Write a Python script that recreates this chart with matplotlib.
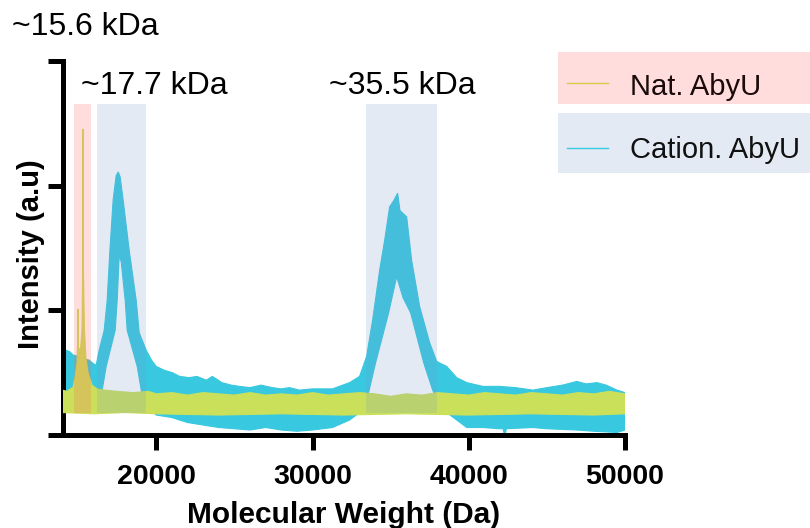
import matplotlib.pyplot as plt
from matplotlib.patches import Rectangle
from matplotlib.lines import Line2D

plt.rcParams['font.family'] = ['Liberation Sans', 'DejaVu Sans']

# Cation. AbyU trace (noisy), stored as its upper and lower envelope, x in Da
cat_top_x = [14000, 14200, 14450, 14700, 15065, 15400, 15706, 16000, 16155, 16347,
             16668, 16860, 17033, 17244, 17436, 17565, 17692, 17885, 18270, 18718,
             18910, 19359, 19700, 20000, 20500, 21026, 21500, 22115, 22600, 23205,
             23590, 24200, 24800, 25320, 26000, 26700, 27436, 28000, 28526, 29167,
             30000, 31282, 32372, 33013, 33462, 33846, 34295, 34615, 34936, 35200,
             35449, 35600, 35769, 36026, 36346, 36859, 37500, 37949, 38590, 39231,
             39872, 40898, 41987, 43000, 44103, 45000, 46000, 46923, 47500, 48205,
             48800, 49487, 50000]
cat_top = [0.72, 0.68, 0.67, 0.64, 0.63, 0.61, 0.60, 0.57, 0.56, 0.68,
           0.84, 1.08, 1.48, 1.89, 2.08, 2.11, 2.07, 1.88, 1.48, 1.08,
           0.82, 0.68, 0.60, 0.55, 0.52, 0.50, 0.47, 0.46, 0.47, 0.44,
           0.47, 0.42, 0.40, 0.39, 0.38, 0.40, 0.38, 0.37, 0.38, 0.36,
           0.37, 0.37, 0.42, 0.47, 0.63, 0.92, 1.32, 1.56, 1.83, 1.88,
           1.94, 1.80, 1.78, 1.75, 1.40, 1.03, 0.74, 0.59, 0.55, 0.46,
           0.42, 0.39, 0.39, 0.38, 0.36, 0.38, 0.40, 0.43, 0.41, 0.42,
           0.40, 0.36, 0.34]
cat_bot_x = [14000, 15000, 16026, 16347, 16540, 16796, 17372, 17500, 17628, 17757,
             18013, 18141, 18782, 19039, 19359, 19680, 20000, 21000, 22000, 23000,
             24000, 25000, 26000, 27000, 28000, 29000, 30000, 31282, 32372, 33013,
             33400, 33590, 34039, 34872, 35385, 35800, 36282, 37115, 37692, 38200,
             38590, 39231, 39872, 40898, 41987, 42200, 42307, 42400, 44103, 45000,
             46923, 48000, 49487, 50000]
cat_bot = [0.19, 0.18, 0.18, 0.24, 0.36, 0.55, 0.84, 1.08, 1.44, 1.39,
           1.08, 0.84, 0.55, 0.36, 0.24, 0.20, 0.16, 0.14, 0.10, 0.08,
           0.06, 0.05, 0.04, 0.06, 0.04, 0.03, 0.04, 0.06, 0.12, 0.18,
           0.25, 0.34, 0.58, 0.98, 1.27, 1.10, 0.98, 0.58, 0.36, 0.22,
           0.18, 0.12, 0.06, 0.06, 0.05, 0.05, -0.02, 0.05, 0.06, 0.05,
           0.04, 0.03, 0.02, 0.04]

# Nat. AbyU trace, same layout
nat_top_x = [14000, 14300, 14500, 14674, 14800, 14930, 14970, 14994, 15020, 15150,
             15250, 15295, 15314, 15335, 15400, 15500, 15635, 15890, 16200, 16700,
             17500, 18500, 19500, 20000, 21000, 22000, 23000, 24000, 25000, 26000,
             27000, 28000, 29000, 30000, 31000, 32000, 33000, 34000, 35000, 36000,
             37000, 38000, 39000, 40000, 41000, 42000, 43000, 44000, 45000, 46000,
             47000, 48000, 49000, 50000]
nat_top = [0.36, 0.35, 0.37, 0.38, 0.46, 0.58, 0.75, 1.01, 0.70, 0.68,
           0.85, 1.40, 2.455, 1.35, 0.85, 0.62, 0.50, 0.40, 0.37, 0.36,
           0.35, 0.34, 0.35, 0.33, 0.34, 0.32, 0.34, 0.33, 0.32, 0.34,
           0.32, 0.33, 0.32, 0.34, 0.32, 0.33, 0.34, 0.33, 0.31, 0.33,
           0.32, 0.34, 0.33, 0.32, 0.34, 0.33, 0.32, 0.34, 0.33, 0.32,
           0.34, 0.33, 0.35, 0.33]
nat_bot_x = [14000, 16000, 18000, 20000, 24000, 28000, 32000, 36000, 40000, 44000,
             48000, 50000]
nat_bot = [0.18, 0.17, 0.18, 0.17, 0.16, 0.17, 0.16, 0.17, 0.16, 0.17,
           0.16, 0.17]

# highlighted mass windows (Da)
windows = [(14750, 15830, 'nat'), (16210, 19350, 'cat'), (33450, 37950, 'cat')]
peak_labels = ['~15.6 kDa', '~17.7 kDa', '~35.5 kDa']
series_names = ['Nat. AbyU', 'Cation. AbyU']
x_ticks = [20000, 30000, 40000, 50000]

cyan = '#38C8E0'
lime = '#CBE05A'

fig = plt.figure(figsize=(8.1, 5.28), dpi=100)
ax = fig.add_axes([62.5 / 810, 1 - 435 / 528, (625 - 62.5) / 810, (435 - 61) / 528])

ax.fill(cat_top_x + cat_bot_x[::-1], cat_top + cat_bot[::-1], color=cyan, lw=0.8, zorder=2)
ax.fill(nat_top_x + nat_bot_x[::-1], nat_top + nat_bot[::-1], color=lime, lw=0.8, zorder=3)

ax.set_xlim(14000, 50000)
ax.set_ylim(0, 3)

for x0, x1, kind in windows:
    col = '#FF5555' if kind == 'nat' else '#7896C8'
    ax.axvspan(x0, x1, ymin=0.059, ymax=0.885, color=col, alpha=0.2, lw=0, zorder=4)

for s in ['top', 'right']:
    ax.spines[s].set_visible(False)
for s in ['left', 'bottom']:
    ax.spines[s].set_linewidth(3.6)

ax.set_xticks(x_ticks)
ax.set_xticklabels([str(t) for t in x_ticks], fontsize=20.5, fontweight='bold')
ax.set_yticks([0, 1, 2, 3])
ax.set_yticklabels([])
ax.tick_params(axis='both', length=10.8, width=3.6, pad=10)

ax.set_xlabel('Molecular Weight (Da)', fontsize=21.5, fontweight='bold', labelpad=8)
ax.set_ylabel('Intensity (a.u)', fontsize=21, fontweight='bold')
ax.yaxis.set_label_coords(-0.031, 0.484)

fig.text(12 / 810, 1 - 35 / 528, peak_labels[0], fontsize=23, va='baseline')
fig.text(81 / 810, 1 - 94 / 528, peak_labels[1], fontsize=23, va='baseline')
fig.text(329 / 810, 1 - 94 / 528, peak_labels[2], fontsize=23, va='baseline')

# legend: one coloured band per entry
fig.add_artist(Rectangle((558 / 810, 1 - 104 / 528), 252 / 810, 52 / 528,
                         transform=fig.transFigure, color='#FFDDDD', lw=0))
fig.add_artist(Rectangle((558 / 810, 1 - 173 / 528), 252 / 810, 60 / 528,
                         transform=fig.transFigure, color='#E4EAF4', lw=0))
fig.add_artist(Line2D([567 / 810, 608 / 810], [1 - 83 / 528] * 2,
                      transform=fig.transFigure, color='#D9CC4A', lw=1))
fig.add_artist(Line2D([567 / 810, 608 / 810], [1 - 148 / 528] * 2,
                      transform=fig.transFigure, color=cyan, lw=1))
fig.text(630 / 810, 1 - 95 / 528, series_names[0], fontsize=21, va='baseline', color='#1a0a0a')
fig.text(630 / 810, 1 - 158 / 528, series_names[1], fontsize=21, va='baseline', color='#111111')

fig.savefig('out.png', dpi=100)
